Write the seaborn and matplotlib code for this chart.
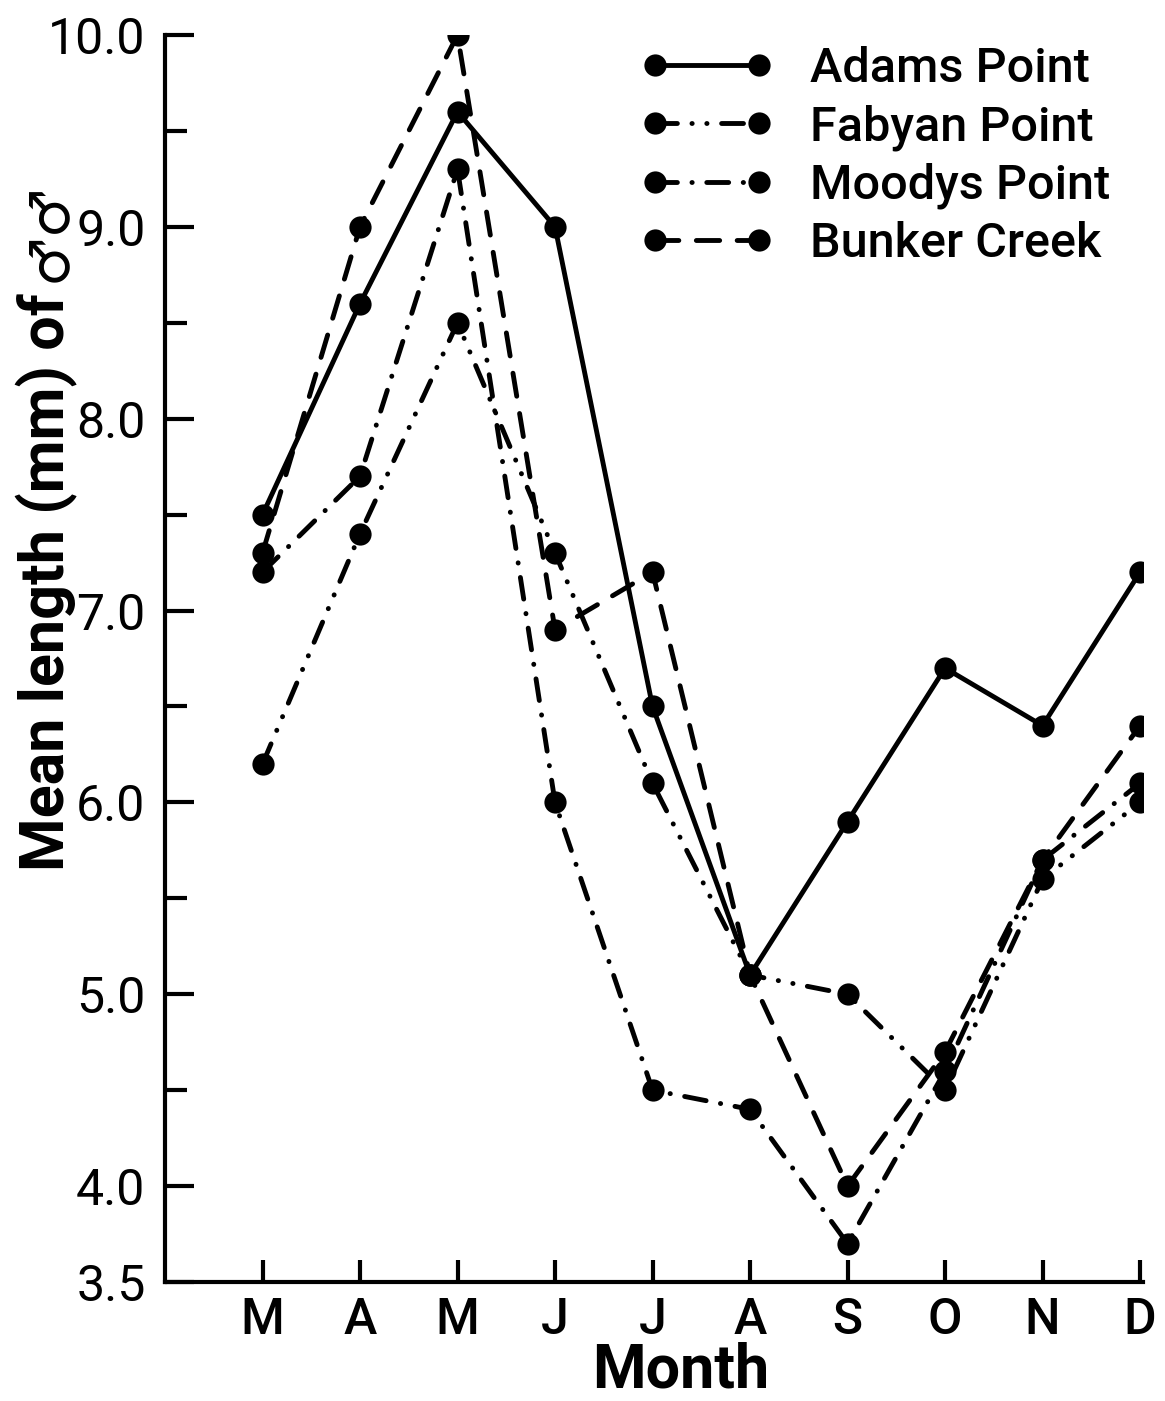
import numpy as np
import pandas as pd
import matplotlib
matplotlib.use("Agg")
import matplotlib.pyplot as plt
import seaborn as sns

# Monthly mean length of males at each station
months = ["M", "A", "M", "J", "J", "A", "S", "O", "N", "D"]
adams_point = [7.5, 8.6, 9.6, 9.0, 6.5, 5.1, 5.9, 6.7, 6.4, 7.2]
fabyan_point = [6.2, 7.4, 8.5, 7.3, 6.1, 5.1, 5.0, 4.5, 5.6, 6.0]
moodys_point = [7.2, 7.7, 9.3, 6.0, 4.5, 4.4, 3.7, 4.6, 5.7, 6.1]
bunker_creek = [7.3, 9.0, 10.0, 6.9, 7.2, 5.1, 4.0, 4.7, 5.7, 6.4]
sites = ["Adams Point", "Fabyan Point", "Moodys Point", "Bunker Creek"]
y_ticks = [3.5, 4.0, 5.0, 6.0, 7.0, 8.0, 9.0, 10.0]
y_minor = [4.5, 5.5, 6.5, 7.5, 8.5, 9.5]

sns.set_style("ticks")
fam = ["Roboto", "DejaVu Sans"]
plt.rcParams["font.family"] = fam
plt.rcParams["text.color"] = "black"
plt.rcParams["axes.labelcolor"] = "black"
plt.rcParams["xtick.color"] = "black"
plt.rcParams["ytick.color"] = "black"
plt.rcParams["lines.dash_capstyle"] = "round"
plt.rcParams["lines.solid_capstyle"] = "round"

records = []
for name, vals in zip(sites, [adams_point, fabyan_point, moodys_point, bunker_creek]):
    for i, v in enumerate(vals):
        records.append({"month": i, "length": v, "site": name})
df = pd.DataFrame(records)

styles = {
    "Adams Point": "-",
    "Fabyan Point": (0, (4.5, 3.0, 0.05, 3.0, 0.05, 3.0)),
    "Moodys Point": (0, (4.5, 3.0, 0.05, 3.0)),
    "Bunker Creek": (0, (4.8, 3.6)),
}

fig = plt.figure(figsize=(11.65, 14.01), dpi=100)
ax = fig.add_axes([165 / 1165, 1 - 1282 / 1401, 978 / 1165, 1247 / 1401])

for name in sites:
    sub = df[df["site"] == name]
    sns.lineplot(data=sub, x="month", y="length", ax=ax, color="black",
                 linestyle=styles[name], linewidth=3.5, marker="o",
                 markersize=16, markeredgewidth=0, label=name, legend=False,
                 estimator=None, sort=False)

ax.set_xlim(-1, 9.03)
ax.set_ylim(3.5, 10.0)
ax.set_xticks(range(len(months)))
ax.set_xticklabels(months, fontweight="medium")
ax.set_yticks(y_ticks)
ax.set_yticklabels([f"{t:.1f}" for t in y_ticks])
ax.set_yticks(y_minor, minor=True)

for sp in ["top", "right"]:
    ax.spines[sp].set_visible(False)
for sp in ["left", "bottom"]:
    ax.spines[sp].set_linewidth(3.0)
    ax.spines[sp].set_color("black")

ax.tick_params(axis="y", which="major", direction="in", length=21, width=3,
               labelsize=36, pad=14)
ax.tick_params(axis="y", which="minor", direction="in", length=16, width=3)
ax.tick_params(axis="x", which="major", direction="in", length=16, width=3,
               labelsize=36, pad=10)

ax.set_xlabel("Month", fontsize=44, fontweight="bold")
ax.xaxis.set_label_coords(0.527, -0.071)
ax.xaxis.label.set_va("center")
ax.set_ylabel("Mean length (mm) of", fontsize=44, fontweight="bold")
ax.yaxis.set_label_coords(-0.121, (1282 - 582) / 1247)
ax.yaxis.label.set_va("center")
# male symbols continuing the y-axis label
ax.text(-0.118, (1282 - 282) / 1247, "\u2642\u2642", transform=ax.transAxes,
        rotation=90, ha="center", va="bottom", fontsize=40,
        family=["DejaVu Sans"], color="black")

handles, labels = ax.get_legend_handles_labels()
leg = ax.legend(handles, labels, loc="upper left",
                bbox_to_anchor=((640 - 165) / 978, (1282 - 46) / 1247),
                frameon=False, numpoints=2, handlelength=2.75,
                handletextpad=0.75, labelspacing=0.25, borderpad=0,
                borderaxespad=0, prop={"size": 35, "family": fam,
                                       "weight": "medium"})

fig.savefig("out.png", dpi=100, facecolor="white")
